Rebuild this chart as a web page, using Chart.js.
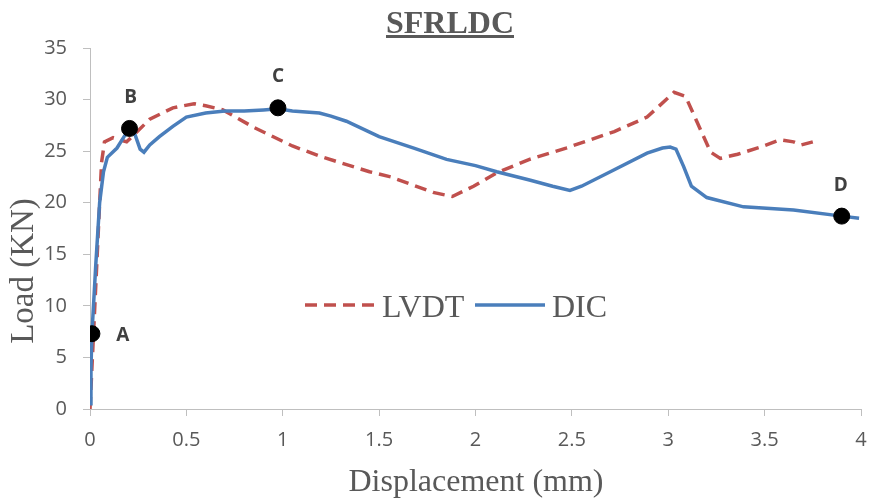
<!DOCTYPE html>
<html>
<head>
<meta charset="utf-8">
<script src="https://cdn.jsdelivr.net/npm/chart.js@4.4.0/dist/chart.umd.min.js"></script>
<style>
  body { margin: 0; background: #fff; }
</style>
</head>
<body>
<canvas id="chart" width="871" height="501"></canvas>
<script>
// values
const lvdtX = [0, 0.02, 0.04, 0.06, 0.075, 0.12, 0.19, 0.24, 0.31, 0.43, 0.54, 0.60, 0.69, 0.85, 1.05, 1.21, 1.45, 1.56, 1.78, 1.88, 1.99, 2.11, 2.28, 2.47, 2.72, 2.89, 3.03, 3.09, 3.15, 3.22, 3.27, 3.36, 3.48, 3.58, 3.65, 3.69, 3.75];
const lvdtY = [0, 8, 16, 23.9, 25.9, 26.3, 25.9, 26.8, 28.1, 29.2, 29.6, 29.4, 29.0, 27.3, 25.5, 24.4, 23.0, 22.5, 21.0, 20.6, 21.6, 22.9, 24.2, 25.3, 26.9, 28.3, 30.7, 30.3, 27.8, 24.9, 24.3, 24.7, 25.4, 26.1, 25.9, 25.6, 25.9];

const dicX = [0, 0.005, 0.01, 0.03, 0.05, 0.07, 0.09, 0.14, 0.18, 0.205, 0.23, 0.26, 0.28, 0.31, 0.36, 0.43, 0.50, 0.60, 0.70, 0.80, 0.90, 0.975, 1.05, 1.19, 1.25, 1.33, 1.50, 1.68, 1.85, 2.00, 2.11, 2.28, 2.40, 2.49, 2.55, 2.72, 2.89, 2.97, 3.01, 3.04, 3.08, 3.12, 3.20, 3.39, 3.65, 3.90, 3.99];
const dicY = [0.5, 4, 7.3, 14, 20, 23, 24.4, 25.3, 26.5, 27.1, 26.8, 25.2, 24.9, 25.6, 26.4, 27.4, 28.3, 28.7, 28.9, 28.9, 29.0, 29.1, 28.9, 28.7, 28.4, 27.9, 26.4, 25.3, 24.2, 23.6, 23.0, 22.2, 21.6, 21.2, 21.6, 23.2, 24.8, 25.3, 25.4, 25.2, 23.5, 21.6, 20.5, 19.6, 19.3, 18.7, 18.5];

const markerNames = ['A', 'B', 'C', 'D'];
const markerX = [0.01, 0.205, 0.975, 3.90];
const markerY = [7.3, 27.2, 29.2, 18.7];

const xTickValues = [0, 0.5, 1, 1.5, 2, 2.5, 3, 3.5, 4];
const yTickValues = [0, 5, 10, 15, 20, 25, 30, 35];

const toPoints = (xs, ys) => xs.map((x, i) => ({ x: x, y: ys[i] }));

const gray = '#595959';
const axisGray = '#bfbfbf';
const serif = '"Liberation Serif", "Times New Roman", serif';

// labels next to the black points
const markerLabels = {
    id: 'markerLabels',
    afterDatasetsDraw(chart) {
        const offsets = { A: [31, 2], B: [1, -31], C: [0, -31], D: [-1, -31] };
        const ctx = chart.ctx;
        const meta = chart.getDatasetMeta(0);
        ctx.save();
        ctx.font = 'bold 19px "Open Sans", sans-serif';
        ctx.fillStyle = '#404040';
        ctx.textAlign = 'center';
        ctx.textBaseline = 'middle';
        meta.data.forEach((pt, i) => {
            const off = offsets[markerNames[i]];
            ctx.fillText(markerNames[i], pt.x + off[0], pt.y + off[1]);
        });
        ctx.restore();
    }
};

// title, axis titles and legend drawn by hand
const decorations = {
    id: 'decorations',
    afterDraw(chart) {
        const ctx = chart.ctx;
        ctx.save();
        ctx.fillStyle = gray;

        // title with underline
        ctx.font = 'bold 32px ' + serif;
        ctx.textAlign = 'center';
        ctx.textBaseline = 'alphabetic';
        const title = 'SFRLDC';
        const tw = ctx.measureText(title).width;
        ctx.fillText(title, 450, 33);
        ctx.fillRect(450 - tw / 2, 35, tw, 3);

        // axis titles
        ctx.font = '32px ' + serif;
        ctx.fillText('Displacement (mm)', 476, 491);
        ctx.save();
        ctx.translate(33, 271);
        ctx.rotate(-Math.PI / 2);
        ctx.font = '33px ' + serif;
        ctx.fillText('Load (KN)', 0, 0);
        ctx.restore();

        // legend
        ctx.lineWidth = 3.5;
        ctx.strokeStyle = '#c0504d';
        ctx.setLineDash([12, 7]);
        ctx.beginPath();
        ctx.moveTo(305, 305);
        ctx.lineTo(376, 305);
        ctx.stroke();
        ctx.setLineDash([]);
        ctx.strokeStyle = '#4a7ebb';
        ctx.beginPath();
        ctx.moveTo(475, 305);
        ctx.lineTo(545, 305);
        ctx.stroke();
        ctx.font = '32px ' + serif;
        ctx.textAlign = 'left';
        ctx.fillText('LVDT', 382, 317);
        ctx.fillText('DIC', 552, 317);
        ctx.restore();
    }
};

const ctx = document.getElementById('chart').getContext('2d');

const chart = new Chart(ctx, {
    type: 'scatter',
    data: {
        datasets: [{
            label: 'points',
            data: toPoints(markerX, markerY),
            pointRadius: 8,
            pointHoverRadius: 8,
            pointBackgroundColor: '#000',
            pointBorderColor: '#000',
            showLine: false
        }, {
            label: 'DIC',
            data: toPoints(dicX, dicY),
            showLine: true,
            borderColor: '#4a7ebb',
            borderWidth: 3.5,
            pointRadius: 0,
            tension: 0
        }, {
            label: 'LVDT',
            data: toPoints(lvdtX, lvdtY),
            showLine: true,
            borderColor: '#c0504d',
            borderWidth: 3.5,
            borderDash: [12, 7],
            pointRadius: 0,
            tension: 0
        }]
    },
    options: {
        responsive: false,
        animation: false,
        devicePixelRatio: 1,
        layout: { padding: { top: 48, right: 10, left: 0, bottom: 0 } },
        plugins: {
            legend: { display: false },
            title: { display: false },
            tooltip: { enabled: false }
        },
        scales: {
            x: {
                type: 'linear',
                min: 0,
                max: 4,
                afterFit: (scale) => {
                    scale.height = 92;
                    scale.paddingLeft = 0;
                    scale.paddingRight = 0;
                },
                afterBuildTicks: (scale) => { scale.ticks = xTickValues.map(v => ({ value: v })); },
                ticks: {
                    color: gray,
                    font: { family: '"Open Sans", sans-serif', size: 20 },
                    padding: 12,
                    callback: (v) => String(v)
                },
                grid: { drawOnChartArea: false, drawTicks: true, tickLength: 7, color: axisGray },
                border: { display: true, color: axisGray, width: 1 }
            },
            y: {
                type: 'linear',
                min: 0,
                max: 35,
                afterFit: (scale) => {
                    scale.width = 90;
                    scale.paddingTop = 0;
                    scale.paddingBottom = 0;
                },
                afterBuildTicks: (scale) => { scale.ticks = yTickValues.map(v => ({ value: v })); },
                ticks: {
                    color: gray,
                    font: { family: '"Open Sans", sans-serif', size: 20 },
                    padding: 16
                },
                grid: { drawOnChartArea: false, drawTicks: true, tickLength: 7, color: axisGray },
                border: { display: true, color: axisGray, width: 1 }
            }
        }
    },
    plugins: [markerLabels, decorations]
});
</script>
</body>
</html>
